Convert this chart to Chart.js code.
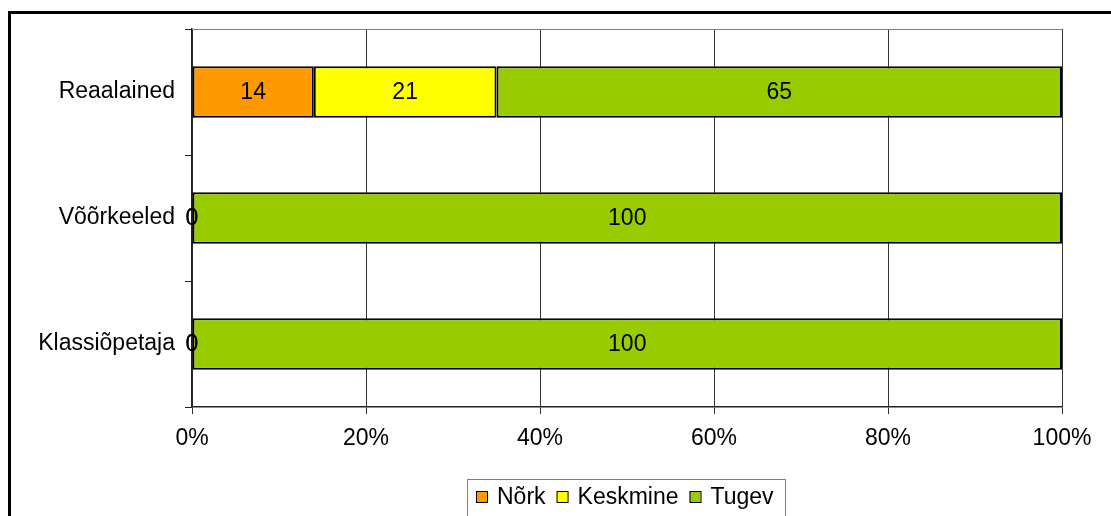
<!DOCTYPE html>
<html>
<head>
    <meta charset="utf-8">
    <script src="https://cdn.jsdelivr.net/npm/chart.js"></script>
    <style>
        html, body { margin: 0; padding: 0; background: #ffffff; }
        .chart-container { width: 1111px; height: 516px; position: relative; }
    </style>
</head>
<body>
    <div class="chart-container">
        <canvas id="skillChart"></canvas>
    </div>

    <script>
        const categories = ['Reaalained', 'Võõrkeeled', 'Klassiõpetaja'];
        const seriesNames = ['Nõrk', 'Keskmine', 'Tugev'];
        const norkValues = [14, 0, 0];
        const keskmineValues = [21, 0, 0];
        const tugevValues = [65, 100, 100];
        const seriesColors = ['#ff9900', '#ffff00', '#99cc00'];
        const FONT = '"Liberation Sans", Arial, sans-serif';

        // outer frame, plot top line, value labels and legend box
        const decorations = {
            id: 'decorations',
            beforeDraw(chart) {
                const c = chart.ctx;
                c.save();
                c.fillStyle = '#ffffff';
                c.fillRect(0, 0, chart.width, chart.height);
                c.restore();
            },
            afterDatasetsDraw(chart) {
                const c = chart.ctx;
                const area = chart.chartArea;
                c.save();
                // top border of plot area
                c.strokeStyle = '#808080';
                c.lineWidth = 1;
                c.beginPath();
                c.moveTo(area.left, area.top + 0.5);
                c.lineTo(area.right, area.top + 0.5);
                c.stroke();

                // value labels in the bar centres
                c.fillStyle = '#000000';
                c.font = '23px ' + FONT;
                c.textAlign = 'center';
                c.textBaseline = 'middle';
                chart.data.datasets.forEach((ds, i) => {
                    const meta = chart.getDatasetMeta(i);
                    meta.data.forEach((bar, j) => {
                        const x = (bar.x + bar.base) / 2;
                        c.fillText(String(ds.data[j]), x, bar.y + 1);
                    });
                });
                c.restore();
            },
            afterDraw(chart) {
                const c = chart.ctx;
                c.save();
                // outer chart frame (runs off the right and bottom)
                c.strokeStyle = '#000000';
                c.lineWidth = 3;
                c.beginPath();
                c.moveTo(9.5, chart.height + 5);
                c.lineTo(9.5, 12.5);
                c.lineTo(chart.width + 5, 12.5);
                c.stroke();

                // legend
                const bx = 467, by = 479;
                c.strokeStyle = '#7f7f7f';
                c.lineWidth = 1;
                c.strokeRect(bx + 0.5, by + 0.5, 318, 60);
                c.font = '23px ' + FONT;
                c.textAlign = 'left';
                c.textBaseline = 'middle';
                let x = 476;
                chart.data.datasets.forEach((ds) => {
                    c.fillStyle = ds.backgroundColor;
                    c.fillRect(x, 491, 11, 11);
                    c.strokeStyle = '#000000';
                    c.strokeRect(x + 0.5, 491.5, 11, 11);
                    c.fillStyle = '#000000';
                    c.fillText(ds.label, x + 21, 498);
                    x += 21 + c.measureText(ds.label).width + 11;
                });
                c.restore();
            }
        };

        const makeSet = (i, values) => ({
            label: seriesNames[i],
            data: values,
            backgroundColor: seriesColors[i],
            borderColor: '#000000',
            borderWidth: 2,
            borderSkipped: false,
            barPercentage: 1,
            categoryPercentage: 0.41
        });

        const ctx = document.getElementById('skillChart').getContext('2d');
        new Chart(ctx, {
            type: 'bar',
            data: {
                labels: categories,
                datasets: [
                    makeSet(0, norkValues),
                    makeSet(1, keskmineValues),
                    makeSet(2, tugevValues)
                ]
            },
            options: {
                indexAxis: 'y',
                responsive: true,
                maintainAspectRatio: false,
                animation: false,
                layout: { padding: { left: 0, right: 49, top: 29, bottom: 0 } },
                plugins: {
                    legend: { display: false },
                    tooltip: { enabled: false }
                },
                scales: {
                    x: {
                        stacked: true,
                        min: 0,
                        max: 100,
                        ticks: {
                            stepSize: 20,
                            color: '#000000',
                            padding: 11,
                            font: { family: FONT, size: 23 },
                            callback: (v) => v + '%'
                        },
                        grid: {
                            color: '#333333',
                            lineWidth: 1,
                            tickLength: 7,
                            drawTicks: true
                        },
                        border: { color: '#222222', width: 1.5 },
                        afterFit: (scale) => { scale.height = 109; }
                    },
                    y: {
                        stacked: true,
                        ticks: {
                            color: '#000000',
                            padding: 10,
                            font: { family: FONT, size: 23 }
                        },
                        grid: {
                            offset: true,
                            drawOnChartArea: false,
                            tickLength: 7,
                            color: '#222222'
                        },
                        border: { color: '#222222', width: 1.5 },
                        afterFit: (scale) => { scale.width = 192; }
                    }
                }
            },
            plugins: [decorations]
        });
    </script>
</body>
</html>
